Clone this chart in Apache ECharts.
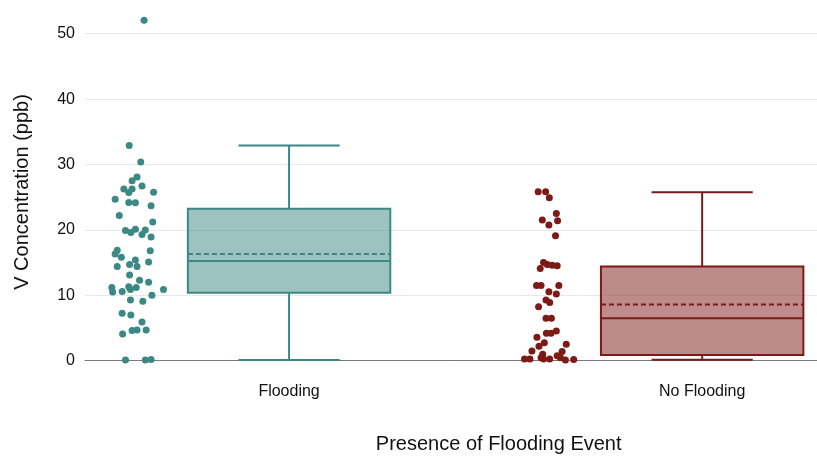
<!DOCTYPE html>
<html>
<head>
<meta charset="utf-8">
<script src="https://cdn.jsdelivr.net/npm/echarts@6/dist/echarts.min.js"></script>
<style>html,body{margin:0;padding:0;background:#fff;}#c{width:817px;height:456px;}</style>
</head>
<body>
<div id="c"></div>
<script>
var categories = ['Flooding', 'No Flooding'];
var yTicks = [0, 10, 20, 30, 40, 50];

// box stats: [lowerWhisker, q1, median, q3, upperWhisker, mean]
var floodStats = [0.1, 10.4, 15.25, 23.25, 32.9, 16.3];
var noFloodStats = [0.15, 0.87, 6.5, 14.4, 25.75, 8.6];

// individual observations (V, ppb) and their horizontal jitter offsets (category units)
var floodVals = [52.05, 32.9, 30.4, 28.1, 27.5, 26.7, 26.25, 26.25, 25.7, 25.75, 24.7, 24.2, 24.15, 23.7, 22.2, 21.2, 19.9, 19.6, 20.1, 20.0, 19.3, 18.9, 16.9, 16.3, 15.8, 16.8, 15.4, 14.7, 14.4, 15.1, 14.4, 13.1, 12.3, 12.0, 11.2, 10.5, 10.6, 11.3, 10.9, 11.2, 10.9, 10.0, 9.3, 9.1, 7.25, 7.0, 5.9, 4.6, 4.7, 4.7, 4.1, 0.1, 0.1, 0.2];
var floodJitter = [-0.351, -0.387, -0.359, -0.368, -0.380, -0.356, -0.400, -0.380, -0.388, -0.328, -0.421, -0.388, -0.372, -0.334, -0.411, -0.330, -0.396, -0.383, -0.372, -0.348, -0.356, -0.334, -0.416, -0.421, -0.406, -0.336, -0.372, -0.386, -0.368, -0.340, -0.416, -0.386, -0.362, -0.340, -0.429, -0.427, -0.404, -0.388, -0.384, -0.370, -0.304, -0.332, -0.384, -0.354, -0.404, -0.383, -0.356, -0.380, -0.368, -0.346, -0.403, -0.396, -0.348, -0.334];
var noFloodVals = [25.85, 25.85, 24.9, 22.5, 21.5, 21.4, 20.75, 19.1, 15.0, 14.1, 14.7, 14.6, 14.5, 11.5, 11.5, 11.5, 10.55, 10.2, 9.3, 8.9, 8.25, 6.5, 6.5, 4.2, 4.2, 4.55, 3.6, 2.75, 2.2, 2.5, 1.5, 1.4, 1.0, 0.25, 0.25, 0.45, 0.25, 0.25, 0.75, 0.45, 0.1, 0.2];
var noFloodJitter = [-0.397, -0.379, -0.370, -0.353, -0.387, -0.350, -0.371, -0.355, -0.384, -0.392, -0.375, -0.363, -0.351, -0.401, -0.390, -0.347, -0.371, -0.353, -0.378, -0.369, -0.396, -0.378, -0.365, -0.377, -0.366, -0.353, -0.400, -0.382, -0.395, -0.329, -0.412, -0.339, -0.386, -0.430, -0.417, -0.390, -0.384, -0.369, -0.351, -0.343, -0.331, -0.311];

var teal = '#3b8884', tealFill = 'rgba(59,136,132,0.5)';
var red = '#7c1a15', redFill = 'rgba(124,26,21,0.5)';
var FONT = '"Liberation Sans", Arial, Helvetica, sans-serif';

function pts(vals, jit, idx) {
  return vals.map(function (v, i) { return [idx + jit[i], v]; });
}

var boxData = [[0].concat(floodStats), [1].concat(noFloodStats)];
var boxColors = [[teal, tealFill], [red, redFill]];
var HALF = 0.245;

function renderBox(params, api) {
  var x = api.value(0);
  var lo = api.value(1), q1 = api.value(2), med = api.value(3), q3 = api.value(4), hi = api.value(5), mean = api.value(6);
  var c = boxColors[params.dataIndex];
  var L = api.coord([x - HALF, 0])[0], R = api.coord([x + HALF, 0])[0];
  var cx = api.coord([x, 0])[0];
  var cL = api.coord([x - HALF / 2, 0])[0], cR = api.coord([x + HALF / 2, 0])[0];
  var y = function (v) { return api.coord([x, v])[1]; };
  var ls = { stroke: c[0], lineWidth: 2 };
  return {
    type: 'group',
    children: [
      { type: 'line', shape: { x1: cx, y1: y(lo), x2: cx, y2: y(q1) }, style: ls },
      { type: 'line', shape: { x1: cx, y1: y(q3), x2: cx, y2: y(hi) }, style: ls },
      { type: 'line', shape: { x1: cL, y1: y(lo), x2: cR, y2: y(lo) }, style: ls },
      { type: 'line', shape: { x1: cL, y1: y(hi), x2: cR, y2: y(hi) }, style: ls },
      { type: 'rect', shape: { x: L, y: y(q3), width: R - L, height: y(q1) - y(q3) }, style: { fill: c[1], stroke: c[0], lineWidth: 2 } },
      { type: 'line', shape: { x1: L, y1: y(med), x2: R, y2: y(med) }, style: ls },
      { type: 'line', shape: { x1: L, y1: y(mean), x2: R, y2: y(mean) }, style: { stroke: c[0], lineWidth: 2, lineDash: [5, 3] } }
    ]
  };
}

var gridLines = yTicks.filter(function (v) { return v > 0; }).map(function (v) { return { yAxis: v }; });

var chart = echarts.init(document.getElementById('c'), null, { renderer: 'canvas' });
chart.setOption({
  animation: false,
  backgroundColor: '#fff',
  textStyle: { fontFamily: FONT },
  grid: { left: 85, right: 0, top: 1, bottom: 95.3, containLabel: false },
  xAxis: {
    type: 'value', min: -0.494, max: 1.278,
    splitLine: { show: false },
    axisTick: { show: false },
    axisLine: { show: true, onZero: false, lineStyle: { color: '#7a7a7a', width: 1 } },
    axisLabel: {
      customValues: [0, 1],
      margin: 23,
      fontSize: 16, color: '#111', fontFamily: FONT,
      formatter: function (v) { return categories[Math.round(v)]; }
    }
  },
  yAxis: {
    type: 'value', min: 0, max: 55,
    axisLine: { show: false },
    axisTick: { show: true, length: 7, lineStyle: { color: '#e6e6e6' }, customValues: yTicks },
    axisLabel: { customValues: yTicks, fontSize: 16, color: '#111', margin: 10, fontFamily: FONT },
    splitLine: { show: false }
  },
  graphic: [
    { type: 'text', x: 498.7, y: 444, style: { text: 'Presence of Flooding Event', font: '20px ' + FONT, fill: '#111', align: 'center', verticalAlign: 'middle' } },
    { type: 'text', x: 22, y: 192, rotation: Math.PI / 2, style: { text: 'V Concentration (ppb)', font: '20px ' + FONT, fill: '#111', align: 'center', verticalAlign: 'middle' } }
  ],
  series: [
    {
      type: 'custom', renderItem: renderBox, data: boxData, encode: { x: 0, y: [1, 2, 3, 4, 5, 6] }, z: 2,
      markLine: { silent: true, symbol: 'none', label: { show: false }, lineStyle: { color: '#e8e8e8', width: 1, type: 'solid' }, data: gridLines, z: 1 }
    },
    { type: 'scatter', data: pts(floodVals, floodJitter, 0), symbolSize: 7, itemStyle: { color: teal, opacity: 1 }, z: 3 },
    { type: 'scatter', data: pts(noFloodVals, noFloodJitter, 1), symbolSize: 7, itemStyle: { color: red, opacity: 1 }, z: 3 }
  ]
});
</script>
</body>
</html>
